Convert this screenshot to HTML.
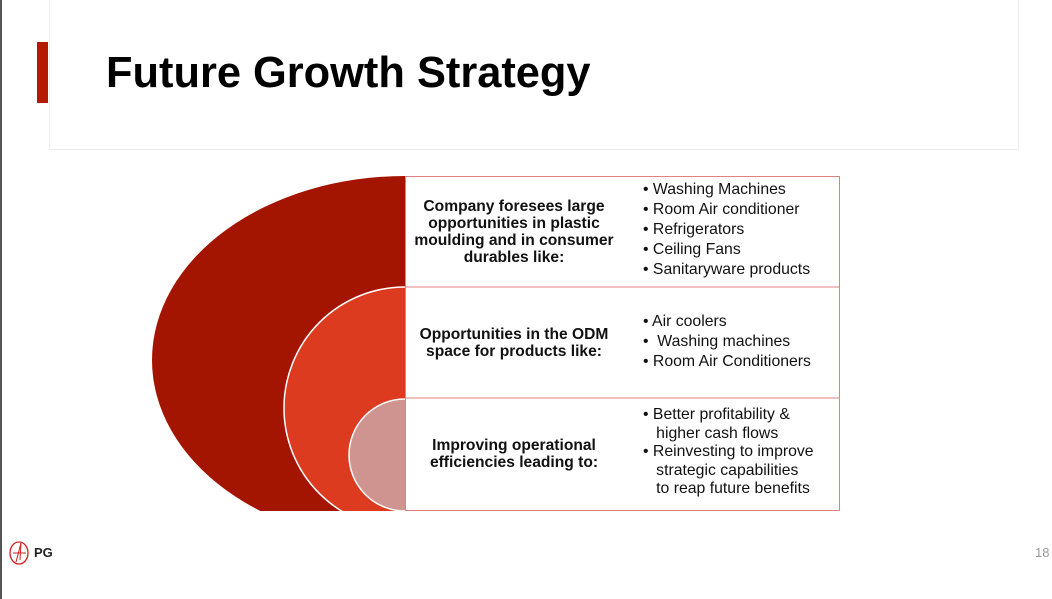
<!DOCTYPE html>
<html><head><meta charset="utf-8"><style>
body{margin:0;width:1052px;height:599px;background:#fff;position:relative;overflow:hidden;font-family:"Liberation Sans",sans-serif}
.abs{position:absolute}
.cell{position:absolute;display:flex;align-items:center;justify-content:center;text-align:center;font-weight:bold;font-size:15.6px;line-height:17px;color:#111}
.list{position:absolute;font-size:15.8px;line-height:20px;color:#111}
</style></head><body>
<div class="abs" style="left:0;top:0;width:2px;height:599px;background:#555"></div>
<div class="abs" style="left:49px;top:-1px;width:968px;height:150px;border:1px solid #eee;border-top:none"></div>
<div class="abs" style="left:37px;top:42px;width:11px;height:61px;background:#b31a00"></div>
<div class="abs" style="left:106px;top:48px;font-size:43.4px;font-weight:bold;color:#000;line-height:50px">Future Growth Strategy</div>
<svg class="abs" style="left:0;top:0" width="1052" height="599">
<defs><clipPath id="c"><rect x="0" y="176" width="405" height="335"/></clipPath></defs>
<g clip-path="url(#c)">
<ellipse cx="405" cy="360" rx="253" ry="184" fill="#a31500"/>
<ellipse cx="405" cy="408" rx="121" ry="121" fill="#dc3b20" stroke="#fff" stroke-width="1.5"/>
<ellipse cx="405" cy="455" rx="56" ry="56" fill="#d09490" stroke="#fff" stroke-width="1.5"/>
</g>
<rect x="405.5" y="176.5" width="434" height="334" fill="none" stroke="#e08080" stroke-width="1"/>
<line x1="405" y1="287" x2="840" y2="287" stroke="#e08080"/>
<line x1="405" y1="398" x2="840" y2="398" stroke="#e08080"/>
</svg>
<div class="cell" style="left:406px;top:177px;width:216px;height:110px">Company foresees large opportunities in plastic moulding and in consumer durables like:</div>
<div class="cell" style="left:406px;top:288px;width:216px;height:110px">Opportunities in the ODM space for products like:</div>
<div class="cell" style="left:406px;top:399px;width:216px;height:110px">Improving operational efficiencies leading to:</div>
<div class="list" style="left:643px;top:180px">• Washing Machines<br>• Room Air conditioner<br>• Refrigerators<br>• Ceiling Fans<br>• Sanitaryware products</div>
<div class="list" style="left:643px;top:312px">• Air coolers<br>•&nbsp; Washing machines<br>• Room Air Conditioners</div>
<div class="list" style="left:643px;top:406px;line-height:18.5px">• Better profitability &amp;<br>&nbsp;&nbsp; higher cash flows<br>• Reinvesting to improve<br>&nbsp;&nbsp; strategic capabilities<br>&nbsp;&nbsp; to reap future benefits</div>
<svg class="abs" style="left:8px;top:540px" width="24" height="26"><ellipse cx="11" cy="13" rx="9" ry="11" fill="none" stroke="#d02020" stroke-width="1.3"/><path d="M8 22 L13 3 M13 3 L12 20 M5 13 L18 13" stroke="#d02020" fill="none"/></svg>
<div class="abs" style="left:34px;top:545px;font-size:13px;font-weight:bold;color:#222">PG</div>
<div class="abs" style="left:1035px;top:545px;font-size:13px;color:#999">18</div>
</body></html>
